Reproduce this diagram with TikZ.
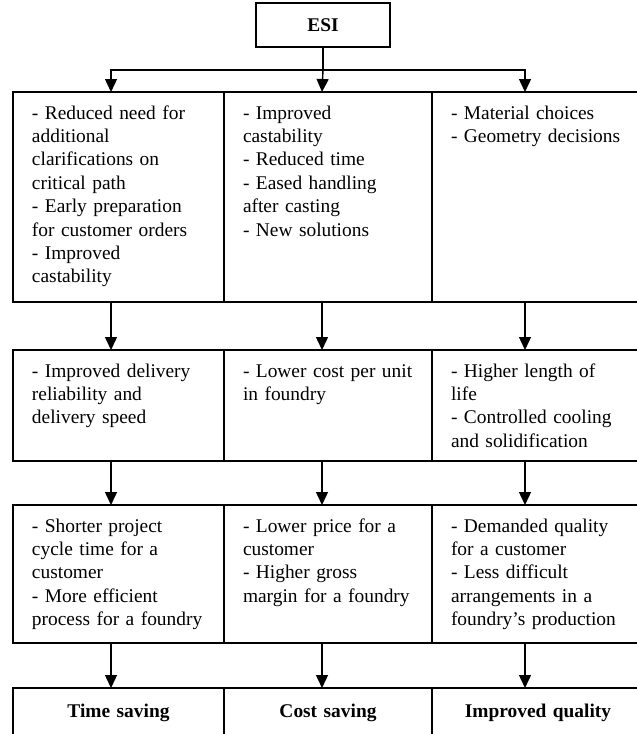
\documentclass[tikz,border=0pt]{standalone}
\usepackage{fontspec}
\setmainfont{Liberation Serif}
\usetikzlibrary{positioning,arrows.meta}

\begin{document}
\begin{tikzpicture}[
>={Triangle[width=6pt,length=6.5pt]},
cell/.style={rectangle, draw=black, line width=0.8pt, outer sep=0pt, inner xsep=9.5pt, inner ysep=0pt, align=left, text height=13.5pt, font=\fontsize{9.7pt}{11.7pt}\selectfont},
colA/.style={text width=86.5pt},
colB/.style={text width=85pt},
colC/.style={text width=87pt},
toprow/.style={cell, text depth=91.5pt},
midrow/.style={cell, text depth=42pt},
lowrow/.style={cell, text depth=55.5pt},
endrow/.style={cell, align=center, text height=14.5pt, text depth=11.5pt, font=\fontsize{9.7pt}{11.7pt}\selectfont\bfseries},
arrow/.style={->, line width=0.7pt}
]
\clip (0,0) rectangle (318.5pt,-367pt);
%Nodes
\node[draw, line width=0.8pt, minimum width=67pt, minimum height=22pt, font=\fontsize{9.7pt}{11.7pt}\selectfont\bfseries] (esi) at (161.5pt,-12.5pt) {ESI};

\node[toprow, colA, anchor=north west] (f1) at (6.5pt,-46pt) {- Reduced need for\\additional\\clarifications on\\critical path\\- Early preparation\\for customer orders\\- Improved\\castability};
\node[toprow, colB]  (f2)  [right=0pt of f1]  {- Improved\\castability\\- Reduced time\\- Eased handling\\after casting\\- New solutions};
\node[toprow, colC]  (f3)  [right=0pt of f2]  {- Material choices\\- Geometry decisions};

\node[midrow, colA]  (e1)  [below=24pt of f1] {- Improved delivery\\reliability and\\delivery speed};
\node[midrow, colB]  (e2)  [right=0pt of e1]  {- Lower cost per unit\\in foundry};
\node[midrow, colC]  (e3)  [right=0pt of e2]  {- Higher length of\\life\\- Controlled cooling\\and solidification};

\node[lowrow, colA]  (g1)  [below=22pt of e1] {- Shorter project\\cycle time for a\\customer\\- More efficient\\process for a foundry};
\node[lowrow, colB]  (g2)  [right=0pt of g1]  {- Lower price for a\\customer\\- Higher gross\\margin for a foundry};
\node[lowrow, colC]  (g3)  [right=0pt of g2]  {- Demanded quality\\for a customer\\- Less difficult\\arrangements in a\\foundry's production};

\node[endrow, colA]  (r1)  [below=22.5pt of g1] {Time saving};
\node[endrow, colB]  (r2)  [right=0pt of r1]    {Cost saving};
\node[endrow, colC]  (r3)  [right=0pt of r2]    {Improved quality};

%Lines
\draw[line width=0.7pt] (esi.south) -- ++(0,-11pt) coordinate (split);
\draw[arrow] (split) -| ([xshift=-3.75pt]f1.north);
\draw[arrow] (split) -- ([xshift=-3pt]f2.north);
\draw[arrow] (split) -| ([xshift=-6.5pt]f3.north);

\draw[arrow] ([xshift=-3.75pt]f1.south) -- ([xshift=-3.75pt]e1.north);
\draw[arrow] ([xshift=-3pt]f2.south)    -- ([xshift=-3pt]e2.north);
\draw[arrow] ([xshift=-6.5pt]f3.south)  -- ([xshift=-6.5pt]e3.north);

\draw[arrow] ([xshift=-3.75pt]e1.south) -- ([xshift=-3.75pt]g1.north);
\draw[arrow] ([xshift=-3pt]e2.south)    -- ([xshift=-3pt]g2.north);
\draw[arrow] ([xshift=-6.5pt]e3.south)  -- ([xshift=-6.5pt]g3.north);

\draw[arrow] ([xshift=-3.75pt]g1.south) -- ([xshift=-3.75pt]r1.north);
\draw[arrow] ([xshift=-3pt]g2.south)    -- ([xshift=-3pt]r2.north);
\draw[arrow] ([xshift=-6.5pt]g3.south)  -- ([xshift=-6.5pt]r3.north);
\end{tikzpicture}
\end{document}
